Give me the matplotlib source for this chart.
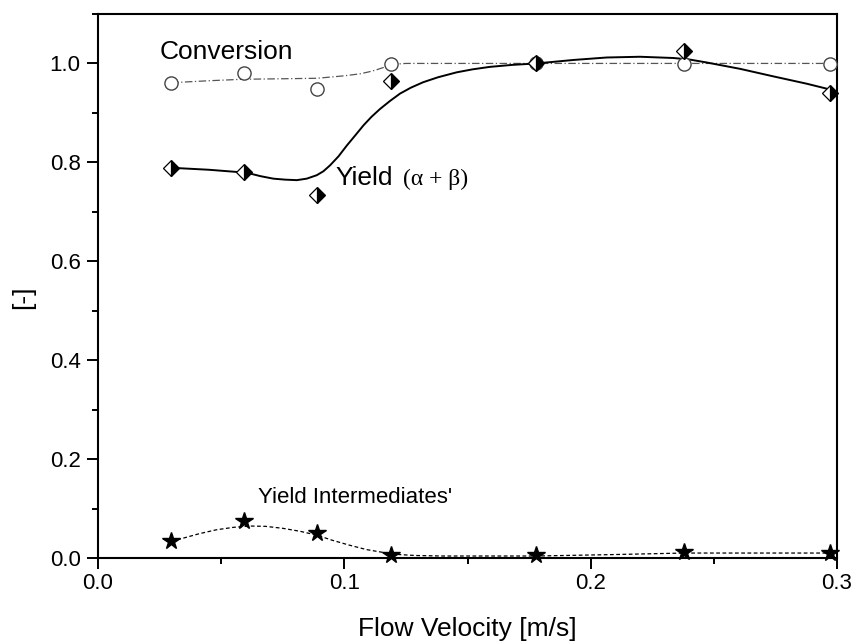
import matplotlib
matplotlib.use("Agg")
import matplotlib.pyplot as plt
from matplotlib.ticker import MultipleLocator

plt.rcParams['font.family'] = ['Liberation Sans', 'DejaVu Sans']

# measured points
velocity = [0.0297, 0.0594, 0.089, 0.119, 0.178, 0.238, 0.297]
conversion = [0.961, 0.981, 0.948, 0.999, 1.000, 0.998, 0.999]
yield_ab = [0.789, 0.781, 0.734, 0.964, 1.000, 1.026, 0.940]
yield_int = [0.034, 0.075, 0.050, 0.006, 0.006, 0.012, 0.011]

# fitted curves
conv_fit_x = [0.0297, 0.045, 0.059, 0.075, 0.089, 0.100, 0.1064, 0.110, 0.113, 0.116,
              0.1186, 0.122, 0.125, 0.297]
conv_fit_y = [0.961, 0.965, 0.968, 0.969, 0.970, 0.975, 0.979, 0.983, 0.987, 0.992,
              0.996, 0.999, 1.000, 1.000]

yield_fit_x = [0.0297, 0.045, 0.0604, 0.066, 0.0712, 0.076, 0.0807, 0.0847, 0.0888,
               0.0915, 0.0942, 0.0976, 0.101, 0.1045, 0.1078, 0.111, 0.1145, 0.1185,
               0.1226, 0.127, 0.132, 0.138, 0.1456, 0.152, 0.159, 0.168, 0.178,
               0.193, 0.2065, 0.22, 0.2335, 0.240, 0.247, 0.2607, 0.274, 0.2877,
               0.2958, 0.297]
yield_fit_y = [0.789, 0.785, 0.779, 0.772, 0.767, 0.765, 0.764, 0.767, 0.774,
               0.782, 0.794, 0.812, 0.834, 0.855, 0.875, 0.892, 0.908, 0.924,
               0.939, 0.951, 0.962, 0.972, 0.982, 0.988, 0.993, 0.997, 1.000,
               1.007, 1.012, 1.0135, 1.011, 1.008, 1.002, 0.989, 0.974, 0.959,
               0.949, 0.942]

int_fit_x = [0.0297, 0.0345, 0.041, 0.048, 0.055, 0.0617, 0.068, 0.075, 0.082, 0.089,
             0.095, 0.102, 0.109, 0.116, 0.122, 0.129, 0.14, 0.15, 0.178, 0.21,
             0.238, 0.297]
int_fit_y = [0.034, 0.040, 0.049, 0.057, 0.062, 0.0646, 0.064, 0.060, 0.054, 0.046,
             0.036, 0.026, 0.017, 0.011, 0.007, 0.005, 0.004, 0.004, 0.004, 0.007,
             0.010, 0.010]

fig = plt.figure(figsize=(8.54, 6.41), dpi=100)
ax = fig.add_axes([0.1148, 0.1295, 0.8653, 0.8487])

ax.plot(conv_fit_x, conv_fit_y, color='#555555', lw=0.9, ls=(0, (6, 2, 1, 2)))
ax.plot(yield_fit_x, yield_fit_y, color='black', lw=1.4, solid_joinstyle='round')
ax.plot(int_fit_x, int_fit_y, color='black', lw=0.9, ls=(0, (3, 2)))

ax.plot(velocity, conversion, ls='none', marker='o', ms=9.5, mfc='white',
        mec='#444444', mew=1.0, clip_on=False, zorder=3)
ax.plot(velocity, yield_ab, ls='none', marker='D', ms=8.5, fillstyle='right',
        mfc='black', markerfacecoloralt='white', mec='black', mew=0.9,
        clip_on=False, zorder=4)
ax.plot(velocity, yield_int, ls='none', marker='*', ms=13, color='black',
        clip_on=False, zorder=4)

ax.text(0.0252, 1.0095, 'Conversion', fontsize=19, va='baseline', ha='left')
ax.text(0.0962, 0.7535, 'Yield', fontsize=19, va='baseline', ha='left')
ax.text(0.1238, 0.7535, '(α + β)', fontsize=17, va='baseline', ha='left',
        family=['Liberation Serif', 'DejaVu Serif'])
ax.text(0.065, 0.1105, "Yield Intermediates'", fontsize=16, va='baseline', ha='left')

ax.set_xlim(0, 0.3)
ax.set_ylim(0, 1.1)
ax.xaxis.set_major_locator(MultipleLocator(0.1))
ax.xaxis.set_minor_locator(MultipleLocator(0.05))
ax.yaxis.set_major_locator(MultipleLocator(0.2))
ax.yaxis.set_minor_locator(MultipleLocator(0.1))
ax.tick_params(which='both', direction='out', width=1.4, labelsize=16, top=False, right=False)
ax.tick_params(which='major', length=8)
ax.tick_params(which='minor', length=4)
ax.tick_params(axis='x', pad=3)
ax.tick_params(axis='y', pad=4.5)
for sp in ax.spines.values():
    sp.set_linewidth(1.5)

ax.set_xlabel('Flow Velocity [m/s]', fontsize=19)
ax.set_ylabel('[-]', fontsize=19)
ax.xaxis.set_label_coords(0.5, -0.108)
ax.xaxis.label.set_va('top')
ax.yaxis.set_label_coords(-0.085, 0.48)

fig.savefig('out.png', dpi=100)
